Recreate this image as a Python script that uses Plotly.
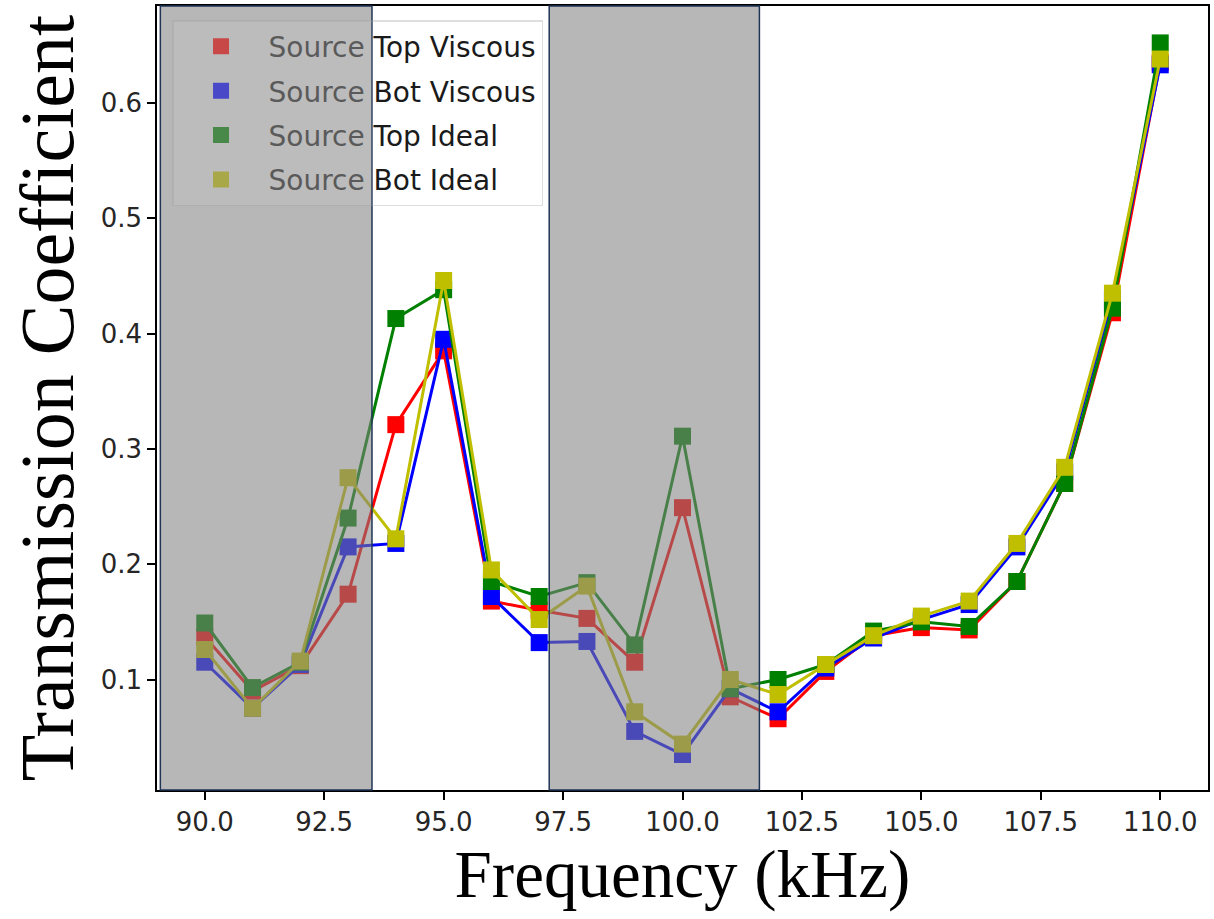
import plotly.graph_objects as go

freq = [90, 91, 92, 93, 94, 95, 96, 97, 98, 99, 100, 101, 102, 103, 104, 105, 106, 107, 108, 109, 110]

top_viscous = [0.137, 0.090, 0.112, 0.174, 0.321, 0.385, 0.168, 0.160, 0.153, 0.115, 0.249, 0.085,
               0.066, 0.107, 0.138, 0.145, 0.143, 0.185, 0.270, 0.418, 0.635]
bot_viscous = [0.115, 0.075, 0.113, 0.215, 0.218, 0.395, 0.172, 0.132, 0.133, 0.055, 0.035, 0.092,
               0.072, 0.110, 0.136, 0.152, 0.165, 0.215, 0.280, 0.430, 0.633]
top_ideal = [0.149, 0.093, 0.115, 0.240, 0.413, 0.438, 0.185, 0.172, 0.184, 0.130, 0.311, 0.092,
             0.100, 0.113, 0.142, 0.150, 0.146, 0.185, 0.270, 0.422, 0.652]
bot_ideal = [0.126, 0.075, 0.116, 0.275, 0.222, 0.446, 0.195, 0.152, 0.181, 0.072, 0.044, 0.100,
             0.087, 0.113, 0.138, 0.155, 0.168, 0.218, 0.284, 0.435, 0.638]

series_names = ["Top Viscous", "Bot Viscous", "Top Ideal", "Bot Ideal"]
series_values = [top_viscous, bot_viscous, top_ideal, bot_ideal]
series_colors = ["#ff0000", "#0000ff", "#008000", "#bfbf00"]
legend_colors = ["#c84848", "#4848c8", "#488848", "#a8a848"]

shaded_spans = [(89.07, 93.5), (97.21, 101.61)]

x_ticks = [90.0, 92.5, 95.0, 97.5, 100.0, 102.5, 105.0, 107.5, 110.0]
y_ticks = [0.1, 0.2, 0.3, 0.4, 0.5, 0.6]

fig = go.Figure()

for name, vals, col in zip(series_names, series_values, series_colors):
    fig.add_trace(go.Scatter(
        x=freq, y=vals, mode="lines+markers",
        line=dict(color=col, width=3),
        marker=dict(symbol="square", size=17, color=col),
        showlegend=False, hoverinfo="x+y", name=name,
    ))

for i, (name, lc) in enumerate(zip(series_names, legend_colors)):
    fig.add_trace(go.Scatter(
        x=[None], y=[None], mode="markers",
        marker=dict(symbol="square", size=16, color=lc),
        name="<span style='color:#5a5a5a'>Source</span> " + name,
        legendgroup="g%d" % i, showlegend=True,
    ))

for x0, x1 in shaded_spans:
    fig.add_shape(type="rect", xref="x", yref="y domain", x0=x0, x1=x1, y0=0, y1=1,
                  fillcolor="rgba(128,128,128,0.57)", line=dict(color="#1f3556", width=1.5),
                  layer="above")

fig.update_layout(
    width=1214, height=919,
    margin=dict(l=157, r=5, t=4, b=129),
    paper_bgcolor="white", plot_bgcolor="white",
    font=dict(family="DejaVu Sans", size=26, color="#262626"),
    showlegend=True,
    legend=dict(
        x=0.0143, y=0.982, xanchor="left", yanchor="top",
        bgcolor="rgba(255,255,255,0.08)", bordercolor="rgba(160,160,160,0.35)", borderwidth=1.5,
        font=dict(family="DejaVu Sans", size=28, color="#1a1a1a"),
        itemwidth=85, tracegroupgap=5,
    ),
    xaxis=dict(
        range=[89, 111], tickvals=x_ticks, ticktext=["%.1f" % v for v in x_ticks],
        showgrid=False, zeroline=False, showline=True, linecolor="black", linewidth=1.5,
        mirror=True, ticks="outside", ticklen=8, tickwidth=1.5, tickcolor="black",
        tickfont=dict(family="DejaVu Sans", size=26, color="#262626"),
        title=dict(text="Frequency (kHz)", font=dict(family="Liberation Serif", size=67, color="black"),
                   standoff=12),
    ),
    yaxis=dict(
        range=[0.0042, 0.684], tickvals=y_ticks, ticktext=["%.1f" % v for v in y_ticks],
        showgrid=False, zeroline=False, showline=True, linecolor="black", linewidth=1.5,
        mirror=True, ticks="outside", ticklen=8, tickwidth=1.5, tickcolor="black",
        tickfont=dict(family="DejaVu Sans", size=26, color="#262626"),
        title=dict(text="Transmission Coefficient", font=dict(family="Liberation Serif", size=76, color="black"),
                   standoff=2),
    ),
)

fig.write_html("out.html")
